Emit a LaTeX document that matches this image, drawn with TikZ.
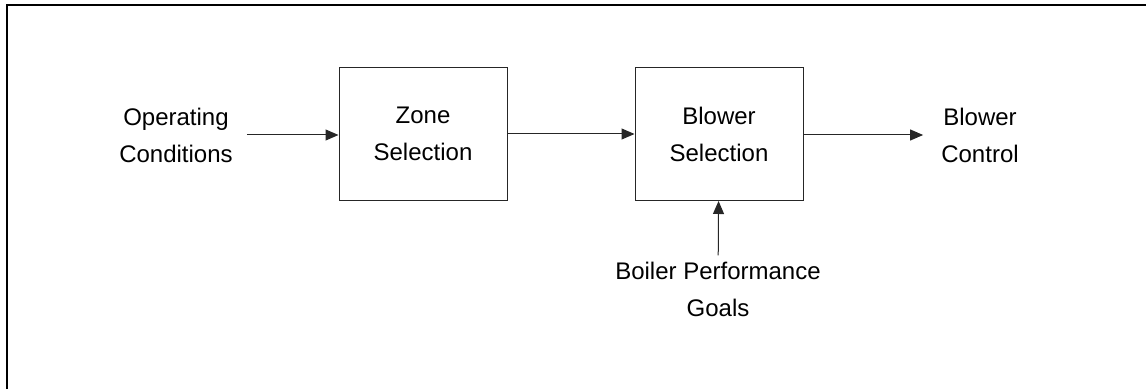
\documentclass[tikz,border=0pt]{standalone}
\usepackage{fontspec}
\setmainfont{Liberation Sans}
\usepackage{tikz}
\usetikzlibrary{arrows.meta,positioning}

\tikzset{
    blk/.style={draw=black!85,line width=1pt,minimum width=168pt,minimum height=133pt,align=center},
    txt/.style={align=center,inner sep=14pt},
    flow/.style={-{Triangle[length=13pt,width=11pt]},line width=1pt,draw=black!85}
}

\begin{document}
\begin{tikzpicture}[x=1pt,y=1pt,font=\fontsize{24}{37}\selectfont]
\useasboundingbox (0,0) rectangle (1146,389);
\draw[line width=2pt] (6.5,0) -- (6.5,383.5) -- (1146,383.5);
\node[blk] (zone) at (423,255) {Zone\\Selection};
\node[blk, right=127pt of zone] (blower) {Blower\\Selection};
\node[txt] (ops) at (176,254) {Operating\\Conditions};
\node[txt, inner sep=18pt] (ctrl) at (980,254) {Blower\\Control};
\node[txt, inner sep=6pt] (goals) at (718,100) {Boiler Performance\\Goals};
\draw[flow] (ops.east) -- (zone.west |- ops.east);
\draw[flow] (zone) -- (blower);
\draw[flow] (blower.east |- ctrl.west) -- (ctrl.west);
\draw[flow] (goals) -- (blower);
\end{tikzpicture}
\end{document}
